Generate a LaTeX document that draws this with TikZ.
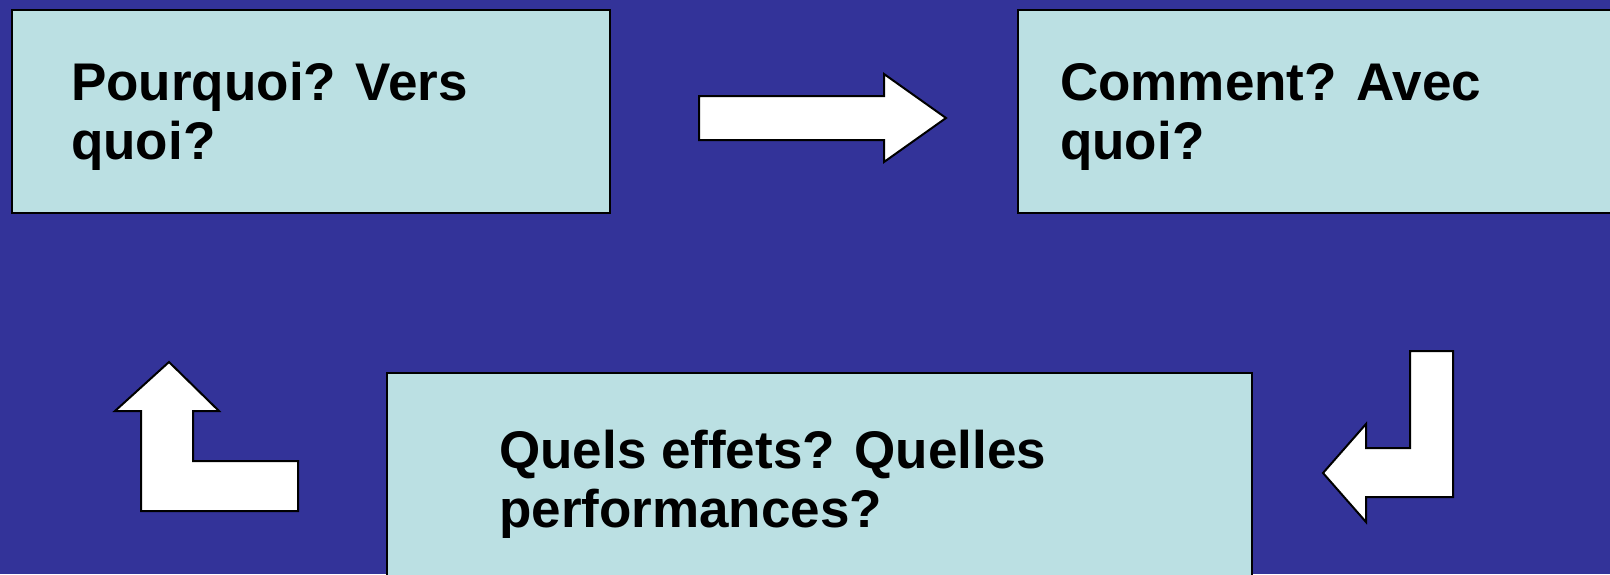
\documentclass[tikz,border=0pt]{standalone}
\usepackage{fontspec}
\setmainfont{Liberation Sans}
\definecolor{bgblue}{RGB}{51,51,153}
\definecolor{boxcyan}{RGB}{187,224,227}
\tikzset{
  box/.style={draw=black, line width=2pt, fill=boxcyan, rectangle, inner sep=0pt},
  lbl/.style={anchor=base west, align=left, inner sep=0pt, text=black,
    font=\fontsize{53}{59}\selectfont\bfseries},
  blockarrow/.style={draw=black, line width=2pt, fill=white, line join=miter}
}
\begin{document}
\begin{tikzpicture}[x=1pt, y=-1pt]
\fill[bgblue] (0,0) rectangle (1610,574);
\useasboundingbox (0,0) rectangle (1610,574);
% boxes
\node[box, minimum width=598pt, minimum height=203pt] (b1) at (311,111.5) {};
\node[box, minimum width=620pt, minimum height=203pt] (b2) at (1328,111.5) {};
\node[box, minimum width=865pt, minimum height=230pt] (b3) at (819.5,488) {};
% texts (anchor = baseline of last line)
\node[lbl] (t1) at (71,159) {Pourquoi? Vers\\quoi?};
\node[lbl] (t2) at (1060,159) {Comment? Avec\\quoi?};
\node[lbl] (t3) at (499,527) {Quels effets? Quelles\\performances?};
% block arrows
\draw[blockarrow] (699,96) -- (884,96) -- (884,74) -- (946,118) -- (884,162) -- (884,140) -- (699,140) -- cycle;
\draw[blockarrow] (1410,351) -- (1453,351) -- (1453,497) -- (1366,497) -- (1366,522) -- (1323,473) -- (1366,424) -- (1366,448) -- (1410,448) -- cycle;
\draw[blockarrow] (169,362) -- (219,411) -- (193,411) -- (193,461) -- (298,461) -- (298,511) -- (141,511) -- (141,411) -- (115,411) -- cycle;
\end{tikzpicture}
\end{document}
